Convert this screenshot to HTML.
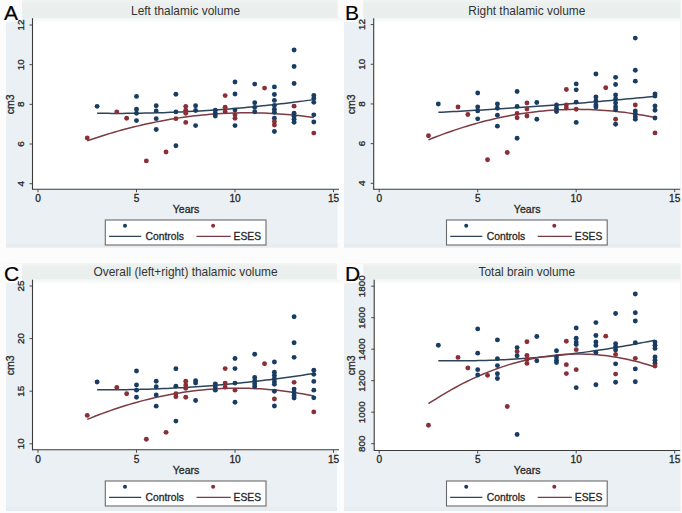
<!DOCTYPE html><html><head><meta charset="utf-8"><style>html,body{margin:0;padding:0;background:#fdfdfd;}svg{display:block;}text{font-family:"Liberation Sans",sans-serif;stroke:#2a2a2a;stroke-width:0.3px;}</style></head><body>
<svg width="682" height="513" viewBox="0 0 682 513">
<defs><linearGradient id="bandg" x1="0" y1="0" x2="0" y2="1"><stop offset="0" stop-color="#f0f4f2"/><stop offset="0.2" stop-color="#ebf0ee"/><stop offset="1" stop-color="#e9efed"/></linearGradient><linearGradient id="fadeg" x1="0" y1="0" x2="0" y2="1"><stop offset="0" stop-color="#f3f5f5"/><stop offset="1" stop-color="#ffffff"/></linearGradient></defs>
<rect x="0" y="0" width="682" height="513" fill="#fcfcfc"/>
<rect x="6" y="0" width="331.5" height="247.5" fill="#eaf0f4"/>
<rect x="6" y="243.5" width="331.5" height="4" fill="#e6ecf0"/>
<rect x="6" y="0" width="331.5" height="18.2" fill="url(#bandg)"/>
<rect x="32.5" y="18.2" width="311.5" height="171" fill="#ffffff"/>
<rect x="0" y="0" width="22" height="22" fill="#fafbfa"/>
<rect x="32.5" y="18.2" width="311.5" height="5" fill="url(#fadeg)"/>
<line x1="32.5" y1="18.2" x2="32.5" y2="189.7" stroke="#3a3a3a" stroke-width="1.1"/>
<line x1="32.5" y1="189.2" x2="339" y2="189.2" stroke="#3a3a3a" stroke-width="1.1"/>
<line x1="29.5" y1="183.7" x2="32.5" y2="183.7" stroke="#3a3a3a" stroke-width="0.9"/>
<text x="0" y="0" transform="translate(23.6,183.7) rotate(-90)" text-anchor="middle" font-size="9.9" fill="#1e1e1e">4</text>
<line x1="29.5" y1="144.02" x2="32.5" y2="144.02" stroke="#3a3a3a" stroke-width="0.9"/>
<text x="0" y="0" transform="translate(23.6,144.02) rotate(-90)" text-anchor="middle" font-size="9.9" fill="#1e1e1e">6</text>
<line x1="29.5" y1="104.35" x2="32.5" y2="104.35" stroke="#3a3a3a" stroke-width="0.9"/>
<text x="0" y="0" transform="translate(23.6,104.35) rotate(-90)" text-anchor="middle" font-size="9.9" fill="#1e1e1e">8</text>
<line x1="29.5" y1="64.67" x2="32.5" y2="64.67" stroke="#3a3a3a" stroke-width="0.9"/>
<text x="0" y="0" transform="translate(23.6,64.67) rotate(-90)" text-anchor="middle" font-size="9.9" fill="#1e1e1e">10</text>
<line x1="29.5" y1="25" x2="32.5" y2="25" stroke="#3a3a3a" stroke-width="0.9"/>
<text x="0" y="0" transform="translate(23.6,25) rotate(-90)" text-anchor="middle" font-size="9.9" fill="#1e1e1e">12</text>
<line x1="38" y1="189.2" x2="38" y2="192.2" stroke="#3a3a3a" stroke-width="0.9"/>
<text x="38" y="201.6" text-anchor="middle" font-size="10.1" fill="#1e1e1e">0</text>
<line x1="136.5" y1="189.2" x2="136.5" y2="192.2" stroke="#3a3a3a" stroke-width="0.9"/>
<text x="136.5" y="201.6" text-anchor="middle" font-size="10.1" fill="#1e1e1e">5</text>
<line x1="235" y1="189.2" x2="235" y2="192.2" stroke="#3a3a3a" stroke-width="0.9"/>
<text x="235" y="201.6" text-anchor="middle" font-size="10.1" fill="#1e1e1e">10</text>
<line x1="333.5" y1="189.2" x2="333.5" y2="192.2" stroke="#3a3a3a" stroke-width="0.9"/>
<text x="333.5" y="201.6" text-anchor="middle" font-size="10.1" fill="#1e1e1e">15</text>
<text x="0" y="0" transform="translate(14.2,104.4) rotate(-90)" text-anchor="middle" font-size="10.5" fill="#1e1e1e">cm3</text>
<text x="186" y="213" text-anchor="middle" font-size="10.6" fill="#1e1e1e">Years</text>
<text x="185.6" y="15.2" text-anchor="middle" font-size="11.9" fill="#333" style="stroke-width:0" >Left thalamic volume</text>
<polyline points="97.1,113.26 100.77,113.31 104.45,113.35 108.12,113.37 111.79,113.39 115.46,113.4 119.14,113.4 122.81,113.39 126.48,113.37 130.16,113.34 133.83,113.3 137.5,113.25 141.17,113.19 144.85,113.12 148.52,113.04 152.19,112.95 155.87,112.86 159.54,112.75 163.21,112.63 166.88,112.51 170.56,112.37 174.23,112.23 177.9,112.07 181.58,111.91 185.25,111.73 188.92,111.55 192.59,111.36 196.27,111.15 199.94,110.94 203.61,110.72 207.29,110.49 210.96,110.25 214.63,110 218.31,109.74 221.98,109.47 225.65,109.19 229.32,108.9 233,108.6 236.67,108.29 240.34,107.98 244.02,107.65 247.69,107.31 251.36,106.97 255.03,106.61 258.71,106.25 262.38,105.87 266.05,105.49 269.73,105.09 273.4,104.69 277.07,104.28 280.74,103.85 284.42,103.42 288.09,102.98 291.76,102.53 295.44,102.07 299.11,101.6 302.78,101.12 306.45,100.63 310.13,100.13 313.8,99.62" fill="none" stroke="#2c4459" stroke-width="1.5"/>
<polyline points="87.25,140.87 91.09,139.55 94.93,138.25 98.77,136.99 102.61,135.75 106.45,134.55 110.29,133.39 114.13,132.25 117.97,131.15 121.81,130.08 125.65,129.04 129.49,128.03 133.33,127.06 137.17,126.12 141.01,125.21 144.85,124.33 148.69,123.49 152.53,122.67 156.37,121.89 160.21,121.14 164.05,120.43 167.89,119.74 171.73,119.09 175.57,118.47 179.41,117.88 183.25,117.33 187.09,116.8 190.93,116.31 194.77,115.85 198.61,115.42 202.44,115.03 206.28,114.67 210.12,114.34 213.96,114.04 217.8,113.77 221.64,113.54 225.48,113.34 229.32,113.17 233.16,113.03 237,112.92 240.84,112.85 244.68,112.81 248.52,112.8 252.36,112.83 256.2,112.88 260.04,112.97 263.88,113.09 267.72,113.24 271.56,113.43 275.4,113.64 279.24,113.89 283.08,114.17 286.92,114.49 290.76,114.83 294.6,115.21 298.44,115.62 302.28,116.06 306.12,116.53 309.96,117.04 313.8,117.58" fill="none" stroke="#7c3a42" stroke-width="1.5"/>
<circle cx="97.1" cy="106.33" r="2.45" fill="#193c62"/>
<circle cx="136.5" cy="96.41" r="2.45" fill="#193c62"/>
<circle cx="136.5" cy="109.31" r="2.45" fill="#193c62"/>
<circle cx="136.5" cy="113.28" r="2.45" fill="#193c62"/>
<circle cx="136.5" cy="120.62" r="2.45" fill="#193c62"/>
<circle cx="156.2" cy="105.74" r="2.45" fill="#193c62"/>
<circle cx="156.2" cy="110.9" r="2.45" fill="#193c62"/>
<circle cx="156.2" cy="118.63" r="2.45" fill="#193c62"/>
<circle cx="156.2" cy="129.54" r="2.45" fill="#193c62"/>
<circle cx="175.9" cy="94.23" r="2.45" fill="#193c62"/>
<circle cx="175.9" cy="111.89" r="2.45" fill="#193c62"/>
<circle cx="175.9" cy="145.81" r="2.45" fill="#193c62"/>
<circle cx="195.6" cy="105.74" r="2.45" fill="#193c62"/>
<circle cx="195.6" cy="110.5" r="2.45" fill="#193c62"/>
<circle cx="195.6" cy="125.58" r="2.45" fill="#193c62"/>
<circle cx="215.3" cy="110.3" r="2.45" fill="#193c62"/>
<circle cx="215.3" cy="113.28" r="2.45" fill="#193c62"/>
<circle cx="215.3" cy="116.05" r="2.45" fill="#193c62"/>
<circle cx="235" cy="81.93" r="2.45" fill="#193c62"/>
<circle cx="235" cy="94.03" r="2.45" fill="#193c62"/>
<circle cx="235" cy="110.1" r="2.45" fill="#193c62"/>
<circle cx="235" cy="125.58" r="2.45" fill="#193c62"/>
<circle cx="254.7" cy="84.12" r="2.45" fill="#193c62"/>
<circle cx="254.7" cy="102.76" r="2.45" fill="#193c62"/>
<circle cx="254.7" cy="107.33" r="2.45" fill="#193c62"/>
<circle cx="254.7" cy="111.69" r="2.45" fill="#193c62"/>
<circle cx="274.4" cy="86.89" r="2.45" fill="#193c62"/>
<circle cx="274.4" cy="94.43" r="2.45" fill="#193c62"/>
<circle cx="274.4" cy="100.38" r="2.45" fill="#193c62"/>
<circle cx="274.4" cy="105.34" r="2.45" fill="#193c62"/>
<circle cx="274.4" cy="109.31" r="2.45" fill="#193c62"/>
<circle cx="274.4" cy="112.28" r="2.45" fill="#193c62"/>
<circle cx="274.4" cy="118.24" r="2.45" fill="#193c62"/>
<circle cx="274.4" cy="131.53" r="2.45" fill="#193c62"/>
<circle cx="294.1" cy="50" r="2.45" fill="#193c62"/>
<circle cx="294.1" cy="66.46" r="2.45" fill="#193c62"/>
<circle cx="294.1" cy="83.52" r="2.45" fill="#193c62"/>
<circle cx="294.1" cy="113.28" r="2.45" fill="#193c62"/>
<circle cx="294.1" cy="116.25" r="2.45" fill="#193c62"/>
<circle cx="294.1" cy="119.23" r="2.45" fill="#193c62"/>
<circle cx="294.1" cy="122.2" r="2.45" fill="#193c62"/>
<circle cx="313.8" cy="95.42" r="2.45" fill="#193c62"/>
<circle cx="313.8" cy="98.4" r="2.45" fill="#193c62"/>
<circle cx="313.8" cy="102.37" r="2.45" fill="#193c62"/>
<circle cx="313.8" cy="114.86" r="2.45" fill="#193c62"/>
<circle cx="313.8" cy="122.01" r="2.45" fill="#193c62"/>
<circle cx="87.25" cy="138.07" r="2.45" fill="#8a2f37"/>
<circle cx="116.8" cy="111.89" r="2.45" fill="#8a2f37"/>
<circle cx="126.65" cy="118.24" r="2.45" fill="#8a2f37"/>
<circle cx="146.35" cy="160.89" r="2.45" fill="#8a2f37"/>
<circle cx="166.05" cy="151.96" r="2.45" fill="#8a2f37"/>
<circle cx="175.9" cy="118.63" r="2.45" fill="#8a2f37"/>
<circle cx="185.75" cy="106.33" r="2.45" fill="#8a2f37"/>
<circle cx="185.75" cy="110.3" r="2.45" fill="#8a2f37"/>
<circle cx="185.75" cy="113.28" r="2.45" fill="#8a2f37"/>
<circle cx="185.75" cy="122.4" r="2.45" fill="#8a2f37"/>
<circle cx="225.15" cy="95.62" r="2.45" fill="#8a2f37"/>
<circle cx="225.15" cy="107.13" r="2.45" fill="#8a2f37"/>
<circle cx="225.15" cy="111.69" r="2.45" fill="#8a2f37"/>
<circle cx="235" cy="114.86" r="2.45" fill="#8a2f37"/>
<circle cx="235" cy="118.24" r="2.45" fill="#8a2f37"/>
<circle cx="264.55" cy="88.08" r="2.45" fill="#8a2f37"/>
<circle cx="274.4" cy="121.61" r="2.45" fill="#8a2f37"/>
<circle cx="274.4" cy="124.98" r="2.45" fill="#8a2f37"/>
<circle cx="294.1" cy="106.14" r="2.45" fill="#8a2f37"/>
<circle cx="313.8" cy="133.11" r="2.45" fill="#8a2f37"/>
<rect x="105.3" y="220" width="160.7" height="25" fill="#ffffff" stroke="#6a6a6a" stroke-width="1.1"/>
<circle cx="125" cy="225.8" r="2.0" fill="#193c62"/>
<line x1="109" y1="236.3" x2="141.2" y2="236.3" stroke="#2c4459" stroke-width="1.3"/>
<text x="145.6" y="239.8" font-size="10.3" fill="#1e1e1e">Controls</text>
<circle cx="213.1" cy="225.8" r="2.0" fill="#8a2f37"/>
<line x1="196.5" y1="236.3" x2="230.7" y2="236.3" stroke="#7c3a42" stroke-width="1.3"/>
<text x="233.6" y="239.8" font-size="10.3" fill="#1e1e1e">ESES</text>
<text x="3.9" y="20.3" font-size="21" fill="#000" style="stroke:#000;stroke-width:0.2px">A</text>
<rect x="344" y="0" width="336.5" height="247.5" fill="#eaf0f4"/>
<rect x="344" y="243.5" width="336.5" height="4" fill="#e6ecf0"/>
<rect x="344" y="0" width="336.5" height="18.2" fill="url(#bandg)"/>
<rect x="373.7" y="18.2" width="306.3" height="171" fill="#ffffff"/>
<rect x="341.2" y="0" width="22" height="22" fill="#fafbfa"/>
<rect x="373.7" y="18.2" width="306.3" height="5" fill="url(#fadeg)"/>
<line x1="373.7" y1="18.2" x2="373.7" y2="189.7" stroke="#3a3a3a" stroke-width="1.1"/>
<line x1="373.7" y1="189.2" x2="680.2" y2="189.2" stroke="#3a3a3a" stroke-width="1.1"/>
<line x1="370.7" y1="183.3" x2="373.7" y2="183.3" stroke="#3a3a3a" stroke-width="0.9"/>
<text x="0" y="0" transform="translate(364.8,183.3) rotate(-90)" text-anchor="middle" font-size="9.9" fill="#1e1e1e">4</text>
<line x1="370.7" y1="143.62" x2="373.7" y2="143.62" stroke="#3a3a3a" stroke-width="0.9"/>
<text x="0" y="0" transform="translate(364.8,143.62) rotate(-90)" text-anchor="middle" font-size="9.9" fill="#1e1e1e">6</text>
<line x1="370.7" y1="103.95" x2="373.7" y2="103.95" stroke="#3a3a3a" stroke-width="0.9"/>
<text x="0" y="0" transform="translate(364.8,103.95) rotate(-90)" text-anchor="middle" font-size="9.9" fill="#1e1e1e">8</text>
<line x1="370.7" y1="64.28" x2="373.7" y2="64.28" stroke="#3a3a3a" stroke-width="0.9"/>
<text x="0" y="0" transform="translate(364.8,64.28) rotate(-90)" text-anchor="middle" font-size="9.9" fill="#1e1e1e">10</text>
<line x1="370.7" y1="24.6" x2="373.7" y2="24.6" stroke="#3a3a3a" stroke-width="0.9"/>
<text x="0" y="0" transform="translate(364.8,24.6) rotate(-90)" text-anchor="middle" font-size="9.9" fill="#1e1e1e">12</text>
<line x1="379.2" y1="189.2" x2="379.2" y2="192.2" stroke="#3a3a3a" stroke-width="0.9"/>
<text x="379.2" y="201.6" text-anchor="middle" font-size="10.1" fill="#1e1e1e">0</text>
<line x1="477.7" y1="189.2" x2="477.7" y2="192.2" stroke="#3a3a3a" stroke-width="0.9"/>
<text x="477.7" y="201.6" text-anchor="middle" font-size="10.1" fill="#1e1e1e">5</text>
<line x1="576.2" y1="189.2" x2="576.2" y2="192.2" stroke="#3a3a3a" stroke-width="0.9"/>
<text x="576.2" y="201.6" text-anchor="middle" font-size="10.1" fill="#1e1e1e">10</text>
<line x1="674.7" y1="189.2" x2="674.7" y2="192.2" stroke="#3a3a3a" stroke-width="0.9"/>
<text x="674.7" y="201.6" text-anchor="middle" font-size="10.1" fill="#1e1e1e">15</text>
<text x="0" y="0" transform="translate(355.4,104.4) rotate(-90)" text-anchor="middle" font-size="10.5" fill="#1e1e1e">cm3</text>
<text x="527.2" y="213" text-anchor="middle" font-size="10.6" fill="#1e1e1e">Years</text>
<text x="526.8" y="15.2" text-anchor="middle" font-size="11.9" fill="#333" style="stroke-width:0" >Right thalamic volume</text>
<polyline points="438.3,112.32 441.97,112.14 445.65,111.95 449.32,111.76 452.99,111.57 456.66,111.38 460.34,111.18 464.01,110.97 467.68,110.77 471.36,110.56 475.03,110.35 478.7,110.14 482.37,109.92 486.05,109.7 489.72,109.48 493.39,109.25 497.07,109.02 500.74,108.79 504.41,108.56 508.08,108.32 511.76,108.08 515.43,107.83 519.1,107.59 522.78,107.34 526.45,107.09 530.12,106.83 533.79,106.57 537.47,106.31 541.14,106.04 544.81,105.78 548.49,105.5 552.16,105.23 555.83,104.95 559.51,104.67 563.18,104.39 566.85,104.11 570.52,103.82 574.2,103.52 577.87,103.23 581.54,102.93 585.22,102.63 588.89,102.33 592.56,102.02 596.23,101.71 599.91,101.4 603.58,101.08 607.25,100.76 610.93,100.44 614.6,100.11 618.27,99.79 621.94,99.46 625.62,99.12 629.29,98.78 632.96,98.44 636.64,98.1 640.31,97.76 643.98,97.41 647.65,97.05 651.33,96.7 655,96.34" fill="none" stroke="#2c4459" stroke-width="1.5"/>
<polyline points="428.45,139.87 432.29,138.32 436.13,136.81 439.97,135.34 443.81,133.91 447.65,132.52 451.49,131.17 455.33,129.86 459.17,128.59 463.01,127.37 466.85,126.18 470.69,125.03 474.53,123.93 478.37,122.86 482.21,121.84 486.05,120.85 489.89,119.91 493.73,119 497.57,118.14 501.41,117.32 505.25,116.53 509.09,115.79 512.93,115.09 516.77,114.43 520.61,113.81 524.45,113.23 528.29,112.69 532.13,112.19 535.97,111.73 539.81,111.31 543.64,110.94 547.48,110.6 551.32,110.3 555.16,110.05 559,109.83 562.84,109.65 566.68,109.52 570.52,109.43 574.36,109.37 578.2,109.36 582.04,109.39 585.88,109.45 589.72,109.56 593.56,109.71 597.4,109.9 601.24,110.13 605.08,110.4 608.92,110.71 612.76,111.06 616.6,111.45 620.44,111.88 624.28,112.36 628.12,112.87 631.96,113.42 635.8,114.02 639.64,114.65 643.48,115.33 647.32,116.04 651.16,116.8 655,117.59" fill="none" stroke="#7c3a42" stroke-width="1.5"/>
<circle cx="438.3" cy="103.95" r="2.45" fill="#193c62"/>
<circle cx="477.7" cy="93.04" r="2.45" fill="#193c62"/>
<circle cx="477.7" cy="106.93" r="2.45" fill="#193c62"/>
<circle cx="477.7" cy="110.89" r="2.45" fill="#193c62"/>
<circle cx="477.7" cy="118.83" r="2.45" fill="#193c62"/>
<circle cx="497.4" cy="103.95" r="2.45" fill="#193c62"/>
<circle cx="497.4" cy="108.31" r="2.45" fill="#193c62"/>
<circle cx="497.4" cy="115.26" r="2.45" fill="#193c62"/>
<circle cx="497.4" cy="126.17" r="2.45" fill="#193c62"/>
<circle cx="517.1" cy="91.45" r="2.45" fill="#193c62"/>
<circle cx="517.1" cy="106.53" r="2.45" fill="#193c62"/>
<circle cx="517.1" cy="138.27" r="2.45" fill="#193c62"/>
<circle cx="536.8" cy="102.56" r="2.45" fill="#193c62"/>
<circle cx="536.8" cy="119.22" r="2.45" fill="#193c62"/>
<circle cx="556.5" cy="104.94" r="2.45" fill="#193c62"/>
<circle cx="556.5" cy="108.31" r="2.45" fill="#193c62"/>
<circle cx="556.5" cy="111.49" r="2.45" fill="#193c62"/>
<circle cx="576.2" cy="83.91" r="2.45" fill="#193c62"/>
<circle cx="576.2" cy="89.87" r="2.45" fill="#193c62"/>
<circle cx="576.2" cy="102.16" r="2.45" fill="#193c62"/>
<circle cx="576.2" cy="122.4" r="2.45" fill="#193c62"/>
<circle cx="595.9" cy="74" r="2.45" fill="#193c62"/>
<circle cx="595.9" cy="97.01" r="2.45" fill="#193c62"/>
<circle cx="595.9" cy="100.97" r="2.45" fill="#193c62"/>
<circle cx="595.9" cy="104.94" r="2.45" fill="#193c62"/>
<circle cx="595.9" cy="106.93" r="2.45" fill="#193c62"/>
<circle cx="615.6" cy="77.37" r="2.45" fill="#193c62"/>
<circle cx="615.6" cy="84.51" r="2.45" fill="#193c62"/>
<circle cx="615.6" cy="95.02" r="2.45" fill="#193c62"/>
<circle cx="615.6" cy="98.99" r="2.45" fill="#193c62"/>
<circle cx="615.6" cy="102.96" r="2.45" fill="#193c62"/>
<circle cx="615.6" cy="106.93" r="2.45" fill="#193c62"/>
<circle cx="615.6" cy="109.9" r="2.45" fill="#193c62"/>
<circle cx="615.6" cy="124.18" r="2.45" fill="#193c62"/>
<circle cx="635.3" cy="38.09" r="2.45" fill="#193c62"/>
<circle cx="635.3" cy="70.23" r="2.45" fill="#193c62"/>
<circle cx="635.3" cy="81.14" r="2.45" fill="#193c62"/>
<circle cx="635.3" cy="110.89" r="2.45" fill="#193c62"/>
<circle cx="635.3" cy="113.87" r="2.45" fill="#193c62"/>
<circle cx="635.3" cy="116.84" r="2.45" fill="#193c62"/>
<circle cx="635.3" cy="119.22" r="2.45" fill="#193c62"/>
<circle cx="655" cy="93.83" r="2.45" fill="#193c62"/>
<circle cx="655" cy="96.02" r="2.45" fill="#193c62"/>
<circle cx="655" cy="105.93" r="2.45" fill="#193c62"/>
<circle cx="655" cy="110.3" r="2.45" fill="#193c62"/>
<circle cx="655" cy="118.03" r="2.45" fill="#193c62"/>
<circle cx="428.45" cy="135.69" r="2.45" fill="#8a2f37"/>
<circle cx="458" cy="106.93" r="2.45" fill="#8a2f37"/>
<circle cx="467.85" cy="114.46" r="2.45" fill="#8a2f37"/>
<circle cx="487.55" cy="159.69" r="2.45" fill="#8a2f37"/>
<circle cx="507.25" cy="152.55" r="2.45" fill="#8a2f37"/>
<circle cx="517.1" cy="113.47" r="2.45" fill="#8a2f37"/>
<circle cx="517.1" cy="117.84" r="2.45" fill="#8a2f37"/>
<circle cx="526.95" cy="102.96" r="2.45" fill="#8a2f37"/>
<circle cx="526.95" cy="109.11" r="2.45" fill="#8a2f37"/>
<circle cx="526.95" cy="116.05" r="2.45" fill="#8a2f37"/>
<circle cx="566.35" cy="89.47" r="2.45" fill="#8a2f37"/>
<circle cx="566.35" cy="104.94" r="2.45" fill="#8a2f37"/>
<circle cx="566.35" cy="108.12" r="2.45" fill="#8a2f37"/>
<circle cx="576.2" cy="109.31" r="2.45" fill="#8a2f37"/>
<circle cx="605.75" cy="87.68" r="2.45" fill="#8a2f37"/>
<circle cx="615.6" cy="119.22" r="2.45" fill="#8a2f37"/>
<circle cx="635.3" cy="104.94" r="2.45" fill="#8a2f37"/>
<circle cx="655" cy="132.91" r="2.45" fill="#8a2f37"/>
<rect x="446.5" y="220" width="160.7" height="25" fill="#ffffff" stroke="#6a6a6a" stroke-width="1.1"/>
<circle cx="466.2" cy="225.8" r="2.0" fill="#193c62"/>
<line x1="450.2" y1="236.3" x2="482.4" y2="236.3" stroke="#2c4459" stroke-width="1.3"/>
<text x="486.8" y="239.8" font-size="10.3" fill="#1e1e1e">Controls</text>
<circle cx="554.3" cy="225.8" r="2.0" fill="#8a2f37"/>
<line x1="537.7" y1="236.3" x2="571.9" y2="236.3" stroke="#7c3a42" stroke-width="1.3"/>
<text x="574.8" y="239.8" font-size="10.3" fill="#1e1e1e">ESES</text>
<text x="345.1" y="20.3" font-size="21" fill="#000" style="stroke:#000;stroke-width:0.2px">B</text>
<rect x="6" y="263.6" width="331" height="247.4" fill="#eaf0f4"/>
<rect x="6" y="507" width="331" height="4" fill="#e6ecf0"/>
<rect x="6" y="263.6" width="331" height="16.1" fill="url(#bandg)"/>
<rect x="32.5" y="279.7" width="311.5" height="170.1" fill="#ffffff"/>
<rect x="0" y="263.6" width="22" height="19.4" fill="#fafbfa"/>
<rect x="32.5" y="279.7" width="311.5" height="5" fill="url(#fadeg)"/>
<line x1="32.5" y1="279.7" x2="32.5" y2="450.3" stroke="#3a3a3a" stroke-width="1.1"/>
<line x1="32.5" y1="449.8" x2="339" y2="449.8" stroke="#3a3a3a" stroke-width="1.1"/>
<line x1="29.5" y1="443.8" x2="32.5" y2="443.8" stroke="#3a3a3a" stroke-width="0.9"/>
<text x="0" y="0" transform="translate(23.6,443.8) rotate(-90)" text-anchor="middle" font-size="9.9" fill="#1e1e1e">10</text>
<line x1="29.5" y1="391.2" x2="32.5" y2="391.2" stroke="#3a3a3a" stroke-width="0.9"/>
<text x="0" y="0" transform="translate(23.6,391.2) rotate(-90)" text-anchor="middle" font-size="9.9" fill="#1e1e1e">15</text>
<line x1="29.5" y1="338.6" x2="32.5" y2="338.6" stroke="#3a3a3a" stroke-width="0.9"/>
<text x="0" y="0" transform="translate(23.6,338.6) rotate(-90)" text-anchor="middle" font-size="9.9" fill="#1e1e1e">20</text>
<line x1="29.5" y1="286" x2="32.5" y2="286" stroke="#3a3a3a" stroke-width="0.9"/>
<text x="0" y="0" transform="translate(23.6,286) rotate(-90)" text-anchor="middle" font-size="9.9" fill="#1e1e1e">25</text>
<line x1="38" y1="449.8" x2="38" y2="452.8" stroke="#3a3a3a" stroke-width="0.9"/>
<text x="38" y="462.6" text-anchor="middle" font-size="10.1" fill="#1e1e1e">0</text>
<line x1="136.5" y1="449.8" x2="136.5" y2="452.8" stroke="#3a3a3a" stroke-width="0.9"/>
<text x="136.5" y="462.6" text-anchor="middle" font-size="10.1" fill="#1e1e1e">5</text>
<line x1="235" y1="449.8" x2="235" y2="452.8" stroke="#3a3a3a" stroke-width="0.9"/>
<text x="235" y="462.6" text-anchor="middle" font-size="10.1" fill="#1e1e1e">10</text>
<line x1="333.5" y1="449.8" x2="333.5" y2="452.8" stroke="#3a3a3a" stroke-width="0.9"/>
<text x="333.5" y="462.6" text-anchor="middle" font-size="10.1" fill="#1e1e1e">15</text>
<text x="0" y="0" transform="translate(14.2,365.4) rotate(-90)" text-anchor="middle" font-size="10.5" fill="#1e1e1e">cm3</text>
<text x="186" y="474" text-anchor="middle" font-size="10.6" fill="#1e1e1e">Years</text>
<text x="185.6" y="276.2" text-anchor="middle" font-size="11.9" fill="#333" style="stroke-width:0" >Overall (left+right) thalamic volume</text>
<polyline points="97.1,389.84 100.77,389.85 104.45,389.86 108.12,389.86 111.79,389.84 115.46,389.82 119.14,389.78 122.81,389.74 126.48,389.69 130.16,389.62 133.83,389.55 137.5,389.46 141.17,389.37 144.85,389.26 148.52,389.15 152.19,389.02 155.87,388.89 159.54,388.74 163.21,388.58 166.88,388.42 170.56,388.24 174.23,388.06 177.9,387.86 181.58,387.65 185.25,387.44 188.92,387.21 192.59,386.97 196.27,386.73 199.94,386.47 203.61,386.2 207.29,385.92 210.96,385.64 214.63,385.34 218.31,385.03 221.98,384.71 225.65,384.39 229.32,384.05 233,383.7 236.67,383.34 240.34,382.97 244.02,382.59 247.69,382.2 251.36,381.81 255.03,381.4 258.71,380.98 262.38,380.55 266.05,380.11 269.73,379.66 273.4,379.2 277.07,378.73 280.74,378.25 284.42,377.76 288.09,377.26 291.76,376.75 295.44,376.23 299.11,375.7 302.78,375.16 306.45,374.6 310.13,374.04 313.8,373.47" fill="none" stroke="#2c4459" stroke-width="1.5"/>
<polyline points="87.25,419.38 91.09,417.82 94.93,416.29 98.77,414.81 102.61,413.36 106.45,411.96 110.29,410.6 114.13,409.27 117.97,407.99 121.81,406.75 125.65,405.54 129.49,404.38 133.33,403.26 137.17,402.18 141.01,401.14 144.85,400.14 148.69,399.18 152.53,398.26 156.37,397.38 160.21,396.54 164.05,395.74 167.89,394.98 171.73,394.26 175.57,393.58 179.41,392.94 183.25,392.35 187.09,391.79 190.93,391.27 194.77,390.8 198.61,390.36 202.44,389.97 206.28,389.61 210.12,389.3 213.96,389.02 217.8,388.79 221.64,388.59 225.48,388.44 229.32,388.33 233.16,388.25 237,388.22 240.84,388.23 244.68,388.28 248.52,388.36 252.36,388.49 256.2,388.66 260.04,388.87 263.88,389.12 267.72,389.41 271.56,389.74 275.4,390.11 279.24,390.52 283.08,390.98 286.92,391.47 290.76,392 294.6,392.57 298.44,393.19 302.28,393.84 306.12,394.53 309.96,395.27 313.8,396.04" fill="none" stroke="#7c3a42" stroke-width="1.5"/>
<circle cx="97.1" cy="382.05" r="2.45" fill="#193c62"/>
<circle cx="136.5" cy="371" r="2.45" fill="#193c62"/>
<circle cx="136.5" cy="384.99" r="2.45" fill="#193c62"/>
<circle cx="136.5" cy="390.15" r="2.45" fill="#193c62"/>
<circle cx="136.5" cy="397.2" r="2.45" fill="#193c62"/>
<circle cx="156.2" cy="381.31" r="2.45" fill="#193c62"/>
<circle cx="156.2" cy="386.68" r="2.45" fill="#193c62"/>
<circle cx="156.2" cy="394.88" r="2.45" fill="#193c62"/>
<circle cx="156.2" cy="406.14" r="2.45" fill="#193c62"/>
<circle cx="175.9" cy="368.69" r="2.45" fill="#193c62"/>
<circle cx="175.9" cy="386.15" r="2.45" fill="#193c62"/>
<circle cx="175.9" cy="421.08" r="2.45" fill="#193c62"/>
<circle cx="195.6" cy="380.68" r="2.45" fill="#193c62"/>
<circle cx="195.6" cy="383.1" r="2.45" fill="#193c62"/>
<circle cx="195.6" cy="400.56" r="2.45" fill="#193c62"/>
<circle cx="215.3" cy="383.84" r="2.45" fill="#193c62"/>
<circle cx="215.3" cy="386.99" r="2.45" fill="#193c62"/>
<circle cx="215.3" cy="390.15" r="2.45" fill="#193c62"/>
<circle cx="235" cy="358.48" r="2.45" fill="#193c62"/>
<circle cx="235" cy="368.58" r="2.45" fill="#193c62"/>
<circle cx="235" cy="383.1" r="2.45" fill="#193c62"/>
<circle cx="235" cy="402.25" r="2.45" fill="#193c62"/>
<circle cx="254.7" cy="354.27" r="2.45" fill="#193c62"/>
<circle cx="254.7" cy="377.52" r="2.45" fill="#193c62"/>
<circle cx="254.7" cy="380.68" r="2.45" fill="#193c62"/>
<circle cx="254.7" cy="383.84" r="2.45" fill="#193c62"/>
<circle cx="254.7" cy="386.47" r="2.45" fill="#193c62"/>
<circle cx="274.4" cy="361.95" r="2.45" fill="#193c62"/>
<circle cx="274.4" cy="372.26" r="2.45" fill="#193c62"/>
<circle cx="274.4" cy="375.42" r="2.45" fill="#193c62"/>
<circle cx="274.4" cy="378.58" r="2.45" fill="#193c62"/>
<circle cx="274.4" cy="381.73" r="2.45" fill="#193c62"/>
<circle cx="274.4" cy="384.36" r="2.45" fill="#193c62"/>
<circle cx="274.4" cy="391.2" r="2.45" fill="#193c62"/>
<circle cx="274.4" cy="406.03" r="2.45" fill="#193c62"/>
<circle cx="294.1" cy="316.82" r="2.45" fill="#193c62"/>
<circle cx="294.1" cy="342.81" r="2.45" fill="#193c62"/>
<circle cx="294.1" cy="357.33" r="2.45" fill="#193c62"/>
<circle cx="294.1" cy="389.1" r="2.45" fill="#193c62"/>
<circle cx="294.1" cy="392.25" r="2.45" fill="#193c62"/>
<circle cx="294.1" cy="395.41" r="2.45" fill="#193c62"/>
<circle cx="294.1" cy="398.04" r="2.45" fill="#193c62"/>
<circle cx="313.8" cy="370.16" r="2.45" fill="#193c62"/>
<circle cx="313.8" cy="374.37" r="2.45" fill="#193c62"/>
<circle cx="313.8" cy="381.42" r="2.45" fill="#193c62"/>
<circle cx="313.8" cy="390.15" r="2.45" fill="#193c62"/>
<circle cx="313.8" cy="397.83" r="2.45" fill="#193c62"/>
<circle cx="87.25" cy="415.4" r="2.45" fill="#8a2f37"/>
<circle cx="116.8" cy="387.41" r="2.45" fill="#8a2f37"/>
<circle cx="126.65" cy="393.72" r="2.45" fill="#8a2f37"/>
<circle cx="146.35" cy="439.28" r="2.45" fill="#8a2f37"/>
<circle cx="166.05" cy="432.33" r="2.45" fill="#8a2f37"/>
<circle cx="175.9" cy="393.72" r="2.45" fill="#8a2f37"/>
<circle cx="175.9" cy="396.67" r="2.45" fill="#8a2f37"/>
<circle cx="185.75" cy="381.31" r="2.45" fill="#8a2f37"/>
<circle cx="185.75" cy="384.89" r="2.45" fill="#8a2f37"/>
<circle cx="185.75" cy="388.25" r="2.45" fill="#8a2f37"/>
<circle cx="185.75" cy="397.2" r="2.45" fill="#8a2f37"/>
<circle cx="225.15" cy="368.58" r="2.45" fill="#8a2f37"/>
<circle cx="225.15" cy="383.1" r="2.45" fill="#8a2f37"/>
<circle cx="225.15" cy="387.1" r="2.45" fill="#8a2f37"/>
<circle cx="235" cy="390.15" r="2.45" fill="#8a2f37"/>
<circle cx="264.55" cy="363.74" r="2.45" fill="#8a2f37"/>
<circle cx="274.4" cy="398.98" r="2.45" fill="#8a2f37"/>
<circle cx="294.1" cy="382.36" r="2.45" fill="#8a2f37"/>
<circle cx="313.8" cy="411.92" r="2.45" fill="#8a2f37"/>
<rect x="105.3" y="481" width="160.7" height="25" fill="#ffffff" stroke="#6a6a6a" stroke-width="1.1"/>
<circle cx="125" cy="486.8" r="2.0" fill="#193c62"/>
<line x1="109" y1="497.3" x2="141.2" y2="497.3" stroke="#2c4459" stroke-width="1.3"/>
<text x="145.6" y="500.8" font-size="10.3" fill="#1e1e1e">Controls</text>
<circle cx="213.1" cy="486.8" r="2.0" fill="#8a2f37"/>
<line x1="196.5" y1="497.3" x2="230.7" y2="497.3" stroke="#7c3a42" stroke-width="1.3"/>
<text x="233.6" y="500.8" font-size="10.3" fill="#1e1e1e">ESES</text>
<text x="3.9" y="281.3" font-size="21" fill="#000" style="stroke:#000;stroke-width:0.2px">C</text>
<rect x="344" y="263.6" width="336.5" height="247.4" fill="#eaf0f4"/>
<rect x="344" y="507" width="336.5" height="4" fill="#e6ecf0"/>
<rect x="344" y="263.6" width="336.5" height="16.1" fill="url(#bandg)"/>
<rect x="374.2" y="279.7" width="305.8" height="170.8" fill="#ffffff"/>
<rect x="341.2" y="263.6" width="22" height="19.4" fill="#fafbfa"/>
<rect x="374.2" y="279.7" width="305.8" height="5" fill="url(#fadeg)"/>
<line x1="374.2" y1="279.7" x2="374.2" y2="451" stroke="#3a3a3a" stroke-width="1.1"/>
<line x1="374.2" y1="450.5" x2="680.2" y2="450.5" stroke="#3a3a3a" stroke-width="1.1"/>
<line x1="371.2" y1="443.7" x2="374.2" y2="443.7" stroke="#3a3a3a" stroke-width="0.9"/>
<text x="0" y="0" transform="translate(364.8,443.7) rotate(-90)" text-anchor="middle" font-size="9.9" fill="#1e1e1e">800</text>
<line x1="371.2" y1="412.2" x2="374.2" y2="412.2" stroke="#3a3a3a" stroke-width="0.9"/>
<text x="0" y="0" transform="translate(364.8,412.2) rotate(-90)" text-anchor="middle" font-size="9.9" fill="#1e1e1e">1000</text>
<line x1="371.2" y1="380.7" x2="374.2" y2="380.7" stroke="#3a3a3a" stroke-width="0.9"/>
<text x="0" y="0" transform="translate(364.8,380.7) rotate(-90)" text-anchor="middle" font-size="9.9" fill="#1e1e1e">1200</text>
<line x1="371.2" y1="349.2" x2="374.2" y2="349.2" stroke="#3a3a3a" stroke-width="0.9"/>
<text x="0" y="0" transform="translate(364.8,349.2) rotate(-90)" text-anchor="middle" font-size="9.9" fill="#1e1e1e">1400</text>
<line x1="371.2" y1="317.7" x2="374.2" y2="317.7" stroke="#3a3a3a" stroke-width="0.9"/>
<text x="0" y="0" transform="translate(364.8,317.7) rotate(-90)" text-anchor="middle" font-size="9.9" fill="#1e1e1e">1600</text>
<line x1="371.2" y1="286.2" x2="374.2" y2="286.2" stroke="#3a3a3a" stroke-width="0.9"/>
<text x="0" y="0" transform="translate(364.8,286.2) rotate(-90)" text-anchor="middle" font-size="9.9" fill="#1e1e1e">1800</text>
<line x1="379.2" y1="450.5" x2="379.2" y2="453.5" stroke="#3a3a3a" stroke-width="0.9"/>
<text x="379.2" y="462.6" text-anchor="middle" font-size="10.1" fill="#1e1e1e">0</text>
<line x1="477.7" y1="450.5" x2="477.7" y2="453.5" stroke="#3a3a3a" stroke-width="0.9"/>
<text x="477.7" y="462.6" text-anchor="middle" font-size="10.1" fill="#1e1e1e">5</text>
<line x1="576.2" y1="450.5" x2="576.2" y2="453.5" stroke="#3a3a3a" stroke-width="0.9"/>
<text x="576.2" y="462.6" text-anchor="middle" font-size="10.1" fill="#1e1e1e">10</text>
<line x1="674.7" y1="450.5" x2="674.7" y2="453.5" stroke="#3a3a3a" stroke-width="0.9"/>
<text x="674.7" y="462.6" text-anchor="middle" font-size="10.1" fill="#1e1e1e">15</text>
<text x="0" y="0" transform="translate(355.4,365.4) rotate(-90)" text-anchor="middle" font-size="10.5" fill="#1e1e1e">cm3</text>
<text x="527.2" y="474" text-anchor="middle" font-size="10.6" fill="#1e1e1e">Years</text>
<text x="526.8" y="276.2" text-anchor="middle" font-size="11.9" fill="#333" style="stroke-width:0" >Total brain volume</text>
<polyline points="438.3,360.68 441.97,360.74 445.65,360.79 449.32,360.83 452.99,360.85 456.66,360.85 460.34,360.84 464.01,360.82 467.68,360.78 471.36,360.73 475.03,360.67 478.7,360.59 482.37,360.5 486.05,360.39 489.72,360.27 493.39,360.13 497.07,359.98 500.74,359.82 504.41,359.64 508.08,359.45 511.76,359.24 515.43,359.02 519.1,358.78 522.78,358.53 526.45,358.27 530.12,357.99 533.79,357.7 537.47,357.4 541.14,357.08 544.81,356.74 548.49,356.39 552.16,356.03 555.83,355.66 559.51,355.27 563.18,354.86 566.85,354.44 570.52,354.01 574.2,353.56 577.87,353.1 581.54,352.62 585.22,352.13 588.89,351.63 592.56,351.11 596.23,350.58 599.91,350.03 603.58,349.47 607.25,348.9 610.93,348.31 614.6,347.71 618.27,347.09 621.94,346.46 625.62,345.81 629.29,345.15 632.96,344.48 636.64,343.79 640.31,343.09 643.98,342.38 647.65,341.65 651.33,340.9 655,340.14" fill="none" stroke="#2c4459" stroke-width="1.5"/>
<polyline points="428.45,403.74 432.29,401.22 436.13,398.77 439.97,396.39 443.81,394.07 447.65,391.81 451.49,389.63 455.33,387.5 459.17,385.44 463.01,383.45 466.85,381.52 470.69,379.66 474.53,377.87 478.37,376.13 482.21,374.47 486.05,372.87 489.89,371.33 493.73,369.86 497.57,368.46 501.41,367.12 505.25,365.84 509.09,364.63 512.93,363.49 516.77,362.41 520.61,361.4 524.45,360.45 528.29,359.56 532.13,358.75 535.97,357.99 539.81,357.31 543.64,356.68 547.48,356.13 551.32,355.64 555.16,355.21 559,354.85 562.84,354.55 566.68,354.32 570.52,354.16 574.36,354.06 578.2,354.02 582.04,354.06 585.88,354.15 589.72,354.31 593.56,354.54 597.4,354.83 601.24,355.19 605.08,355.61 608.92,356.1 612.76,356.65 616.6,357.27 620.44,357.95 624.28,358.7 628.12,359.52 631.96,360.4 635.8,361.34 639.64,362.35 643.48,363.43 647.32,364.57 651.16,365.77 655,367.04" fill="none" stroke="#7c3a42" stroke-width="1.5"/>
<circle cx="438.3" cy="345.26" r="2.45" fill="#193c62"/>
<circle cx="477.7" cy="328.88" r="2.45" fill="#193c62"/>
<circle cx="477.7" cy="353.14" r="2.45" fill="#193c62"/>
<circle cx="477.7" cy="369.67" r="2.45" fill="#193c62"/>
<circle cx="477.7" cy="375.03" r="2.45" fill="#193c62"/>
<circle cx="497.4" cy="339.91" r="2.45" fill="#193c62"/>
<circle cx="497.4" cy="358.65" r="2.45" fill="#193c62"/>
<circle cx="497.4" cy="365.58" r="2.45" fill="#193c62"/>
<circle cx="497.4" cy="373.77" r="2.45" fill="#193c62"/>
<circle cx="497.4" cy="378.5" r="2.45" fill="#193c62"/>
<circle cx="517.1" cy="347.62" r="2.45" fill="#193c62"/>
<circle cx="517.1" cy="355.81" r="2.45" fill="#193c62"/>
<circle cx="517.1" cy="434.56" r="2.45" fill="#193c62"/>
<circle cx="536.8" cy="336.44" r="2.45" fill="#193c62"/>
<circle cx="536.8" cy="360.86" r="2.45" fill="#193c62"/>
<circle cx="556.5" cy="350.77" r="2.45" fill="#193c62"/>
<circle cx="556.5" cy="357.07" r="2.45" fill="#193c62"/>
<circle cx="556.5" cy="360.23" r="2.45" fill="#193c62"/>
<circle cx="556.5" cy="362.59" r="2.45" fill="#193c62"/>
<circle cx="576.2" cy="327.94" r="2.45" fill="#193c62"/>
<circle cx="576.2" cy="338.18" r="2.45" fill="#193c62"/>
<circle cx="576.2" cy="342.11" r="2.45" fill="#193c62"/>
<circle cx="576.2" cy="344.47" r="2.45" fill="#193c62"/>
<circle cx="576.2" cy="387.63" r="2.45" fill="#193c62"/>
<circle cx="595.9" cy="322.58" r="2.45" fill="#193c62"/>
<circle cx="595.9" cy="335.5" r="2.45" fill="#193c62"/>
<circle cx="595.9" cy="341.95" r="2.45" fill="#193c62"/>
<circle cx="595.9" cy="345.42" r="2.45" fill="#193c62"/>
<circle cx="595.9" cy="352.51" r="2.45" fill="#193c62"/>
<circle cx="595.9" cy="384.79" r="2.45" fill="#193c62"/>
<circle cx="615.6" cy="313.45" r="2.45" fill="#193c62"/>
<circle cx="615.6" cy="343.69" r="2.45" fill="#193c62"/>
<circle cx="615.6" cy="346.84" r="2.45" fill="#193c62"/>
<circle cx="615.6" cy="349.99" r="2.45" fill="#193c62"/>
<circle cx="615.6" cy="363.85" r="2.45" fill="#193c62"/>
<circle cx="615.6" cy="382.27" r="2.45" fill="#193c62"/>
<circle cx="635.3" cy="294.07" r="2.45" fill="#193c62"/>
<circle cx="635.3" cy="312.82" r="2.45" fill="#193c62"/>
<circle cx="635.3" cy="321.01" r="2.45" fill="#193c62"/>
<circle cx="635.3" cy="342.74" r="2.45" fill="#193c62"/>
<circle cx="635.3" cy="368.89" r="2.45" fill="#193c62"/>
<circle cx="635.3" cy="381.8" r="2.45" fill="#193c62"/>
<circle cx="655" cy="342.11" r="2.45" fill="#193c62"/>
<circle cx="655" cy="345.26" r="2.45" fill="#193c62"/>
<circle cx="655" cy="348.41" r="2.45" fill="#193c62"/>
<circle cx="655" cy="357.07" r="2.45" fill="#193c62"/>
<circle cx="655" cy="360.23" r="2.45" fill="#193c62"/>
<circle cx="655" cy="363.38" r="2.45" fill="#193c62"/>
<circle cx="428.45" cy="425.27" r="2.45" fill="#8a2f37"/>
<circle cx="458" cy="357.39" r="2.45" fill="#8a2f37"/>
<circle cx="467.85" cy="367.94" r="2.45" fill="#8a2f37"/>
<circle cx="487.55" cy="375.34" r="2.45" fill="#8a2f37"/>
<circle cx="507.25" cy="406.53" r="2.45" fill="#8a2f37"/>
<circle cx="517.1" cy="351.56" r="2.45" fill="#8a2f37"/>
<circle cx="526.95" cy="341.8" r="2.45" fill="#8a2f37"/>
<circle cx="526.95" cy="355.5" r="2.45" fill="#8a2f37"/>
<circle cx="526.95" cy="359.44" r="2.45" fill="#8a2f37"/>
<circle cx="526.95" cy="363.38" r="2.45" fill="#8a2f37"/>
<circle cx="566.35" cy="341.32" r="2.45" fill="#8a2f37"/>
<circle cx="566.35" cy="364.63" r="2.45" fill="#8a2f37"/>
<circle cx="566.35" cy="373.61" r="2.45" fill="#8a2f37"/>
<circle cx="576.2" cy="349.67" r="2.45" fill="#8a2f37"/>
<circle cx="576.2" cy="369.67" r="2.45" fill="#8a2f37"/>
<circle cx="605.75" cy="336.13" r="2.45" fill="#8a2f37"/>
<circle cx="615.6" cy="354.4" r="2.45" fill="#8a2f37"/>
<circle cx="615.6" cy="374.08" r="2.45" fill="#8a2f37"/>
<circle cx="635.3" cy="358.33" r="2.45" fill="#8a2f37"/>
<circle cx="655" cy="366.05" r="2.45" fill="#8a2f37"/>
<rect x="446.5" y="481" width="160.7" height="25" fill="#ffffff" stroke="#6a6a6a" stroke-width="1.1"/>
<circle cx="466.2" cy="486.8" r="2.0" fill="#193c62"/>
<line x1="450.2" y1="497.3" x2="482.4" y2="497.3" stroke="#2c4459" stroke-width="1.3"/>
<text x="486.8" y="500.8" font-size="10.3" fill="#1e1e1e">Controls</text>
<circle cx="554.3" cy="486.8" r="2.0" fill="#8a2f37"/>
<line x1="537.7" y1="497.3" x2="571.9" y2="497.3" stroke="#7c3a42" stroke-width="1.3"/>
<text x="574.8" y="500.8" font-size="10.3" fill="#1e1e1e">ESES</text>
<text x="345.1" y="281.3" font-size="21" fill="#000" style="stroke:#000;stroke-width:0.2px">D</text>
</svg></body></html>
